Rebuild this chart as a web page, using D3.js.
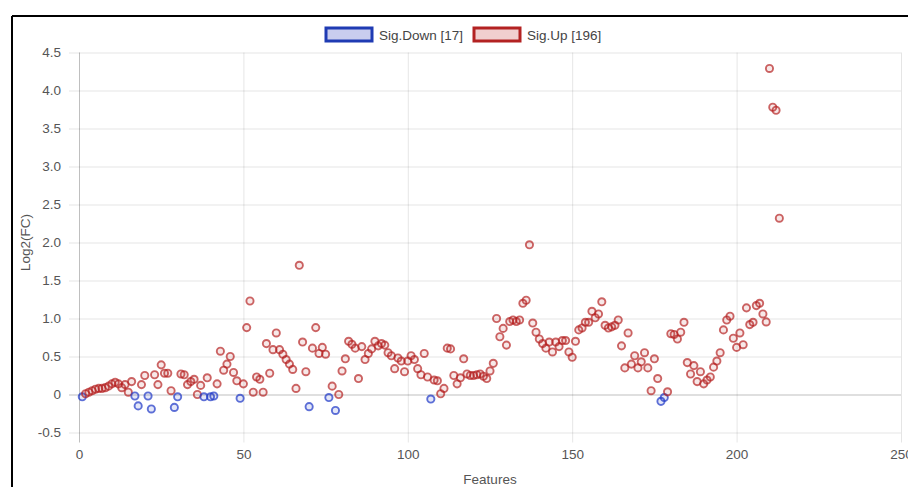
<!DOCTYPE html>
<html>
<head>
<meta charset="utf-8">
<script src="https://cdn.jsdelivr.net/npm/d3@7"></script>
<style>
  html, body { margin: 0; padding: 0; background: #fff; }
  svg { display: block; font-family: "Liberation Sans", Arial, Helvetica, sans-serif; }
</style>
</head>
<body>
<div id="app"></div>
<script>
// log2 fold change per feature (feature number = position + 1)
const log2fc = [
  -0.03, 0.01, 0.03, 0.05, 0.07, 0.08, 0.08, 0.09, 0.11, 0.14,
  0.16, 0.14, 0.09, 0.13, 0.03, 0.17, -0.02, -0.15, 0.13, 0.25,
  -0.02, -0.19, 0.26, 0.13, 0.39, 0.28, 0.28, 0.05, -0.17, -0.03,
  0.27, 0.26, 0.13, 0.17, 0.20, 0.00, 0.12, -0.03, 0.22, -0.03,
  -0.02, 0.14, 0.57, 0.32, 0.40, 0.50, 0.29, 0.18, -0.05, 0.14,
  0.88, 1.23, 0.03, 0.23, 0.20, 0.03, 0.67, 0.28, 0.59, 0.81,
  0.59, 0.53, 0.46, 0.40, 0.33, 0.08, 1.70, 0.69, 0.30, -0.16,
  0.61, 0.88, 0.54, 0.62, 0.53, -0.04, 0.11, -0.21, 0.00, 0.31,
  0.47, 0.70, 0.66, 0.61, 0.21, 0.63, 0.46, 0.54, 0.60, 0.70,
  0.64, 0.67, 0.65, 0.55, 0.51, 0.34, 0.48, 0.44, 0.30, 0.44,
  0.51, 0.46, 0.34, 0.26, 0.54, 0.23, -0.06, 0.19, 0.18, 0.01,
  0.08, 0.61, 0.60, 0.25, 0.14, 0.22, 0.47, 0.27, 0.25, 0.25,
  0.26, 0.27, 0.24, 0.21, 0.31, 0.41, 1.00, 0.76, 0.87, 0.65,
  0.96, 0.98, 0.96, 0.98, 1.20, 1.24, 1.97, 0.94, 0.82, 0.73,
  0.67, 0.61, 0.69, 0.56, 0.69, 0.63, 0.71, 0.71, 0.56, 0.49,
  0.70, 0.85, 0.875, 0.95, 0.95, 1.095, 1.01, 1.06, 1.22, 0.91,
  0.875, 0.89, 0.91, 0.98, 0.64, 0.35, 0.81, 0.40, 0.51, 0.35,
  0.43, 0.55, 0.35, 0.05, 0.47, 0.21, -0.09, -0.04, 0.035, 0.80,
  0.79, 0.73, 0.82, 0.95, 0.42, 0.27, 0.38, 0.17, 0.30, 0.14,
  0.19, 0.23, 0.36, 0.44, 0.55, 0.85, 0.98, 1.03, 0.74, 0.62,
  0.81, 0.655, 1.14, 0.92, 0.95, 1.17, 1.20, 1.06, 0.955, 4.29,
  3.78, 3.74, 2.32
];

// features flagged as significantly down
const sigDownFeatures = [1, 17, 18, 21, 22, 29, 30, 38, 40, 41, 49, 70, 76, 78, 107, 177, 178];

const xTicks = [0, 50, 100, 150, 200, 250];
const yTicks = [-0.5, 0, 0.5, 1, 1.5, 2, 2.5, 3, 3.5, 4, 4.5];
const yTickLabels = ["-0.5", "0", "0.5", "1.0", "1.5", "2.0", "2.5", "3.0", "3.5", "4.0", "4.5"];

const seriesNames = ["Sig.Down", "Sig.Up"];

const dataset = log2fc.map((v, i) => ({
  feature: i + 1,
  value: v,
  down: sigDownFeatures.includes(i + 1)
}));
const nDown = dataset.filter((d) => d.down).length;
const nUp = dataset.length - nDown;

const w = 908;
const h = 487;
const plotLeft = 79, plotRight = 901, plotTop = 52.5, plotBottom = 432.5;
const fontSize = "13.5px";

const svg = d3.select("#app").append("svg").attr("width", w).attr("height", h);

// outer frame (top and left edges show in the shot)
svg.append("line").attr("x1", 12).attr("x2", w).attr("y1", 16).attr("y2", 16)
  .attr("stroke", "#000").attr("stroke-width", 2);
svg.append("line").attr("x1", 12).attr("x2", 12).attr("y1", 16).attr("y2", h)
  .attr("stroke", "#000").attr("stroke-width", 2);

const scaleX = d3.scaleLinear().domain([0, 250]).range([plotLeft, plotRight]);
const scaleY = d3.scaleLinear().domain([-0.5, 4.5]).range([plotBottom, plotTop]);

// y grid + ticks
const yAxis = d3.axisLeft(scaleY).tickValues(yTicks)
  .tickFormat((d, i) => yTickLabels[i]).tickPadding(12);
const gy = svg.append("g").attr("transform", `translate(${plotLeft},0)`).call(yAxis);
gy.select(".domain").remove();
gy.selectAll(".tick line")
  .attr("x1", -10).attr("x2", plotRight - plotLeft)
  .attr("stroke", (d) => (d === 0 ? "rgba(0,0,0,0.25)" : "rgba(0,0,0,0.1)"));
gy.selectAll(".tick text").attr("fill", "#555").style("font-size", fontSize);

// x grid + ticks
const xAxis = d3.axisBottom(scaleX).tickValues(xTicks).tickFormat(d3.format("d")).tickPadding(11);
const gx = svg.append("g").attr("transform", `translate(0,${plotBottom})`).call(xAxis);
gx.select(".domain").remove();
gx.selectAll(".tick line")
  .attr("y1", 10).attr("y2", plotTop - plotBottom)
  .attr("stroke", (d) => (d === 0 ? "rgba(0,0,0,0.25)" : "rgba(0,0,0,0.1)"));
gx.selectAll(".tick text").attr("fill", "#555").style("font-size", fontSize);

// axis titles
svg.append("text").attr("x", (plotLeft + plotRight) / 2).attr("y", 484)
  .attr("text-anchor", "middle").attr("fill", "#555").style("font-size", fontSize)
  .text("Features");
svg.append("text")
  .attr("transform", `translate(30,${(plotTop + plotBottom) / 2}) rotate(-90)`)
  .attr("text-anchor", "middle").attr("fill", "#555").style("font-size", fontSize)
  .text("Log2(FC)");

// points
const colors = {
  down: { stroke: "rgba(35,60,200,0.72)", fill: "rgba(35,60,200,0.12)" },
  up: { stroke: "rgba(180,30,30,0.68)", fill: "rgba(180,30,30,0.1)" }
};

svg.append("g")
  .selectAll("circle")
  .data(dataset)
  .enter()
  .append("circle")
  .attr("cx", (d) => scaleX(d.feature))
  .attr("cy", (d) => scaleY(d.value))
  .attr("r", 3.6)
  .attr("stroke-width", 1.9)
  .style("stroke", (d) => (d.down ? colors.down.stroke : colors.up.stroke))
  .style("fill", (d) => (d.down ? colors.down.fill : colors.up.fill));

// legend
const legendItems = [
  { label: `${seriesNames[0]} [${nDown}]`, stroke: "#1f3bb3", fill: "#c9cdee", x: 326 },
  { label: `${seriesNames[1]} [${nUp}]`, stroke: "#b32222", fill: "#f1cfcf", x: 474 }
];
const lg = svg.append("g");
legendItems.forEach((it) => {
  lg.append("rect").attr("x", it.x).attr("y", 28).attr("width", 46).attr("height", 13)
    .attr("fill", it.fill).attr("stroke", it.stroke).attr("stroke-width", 3);
  lg.append("text").attr("x", it.x + 53).attr("y", 39.5)
    .attr("fill", "#444").style("font-size", fontSize).text(it.label);
});
</script>
</body>
</html>
